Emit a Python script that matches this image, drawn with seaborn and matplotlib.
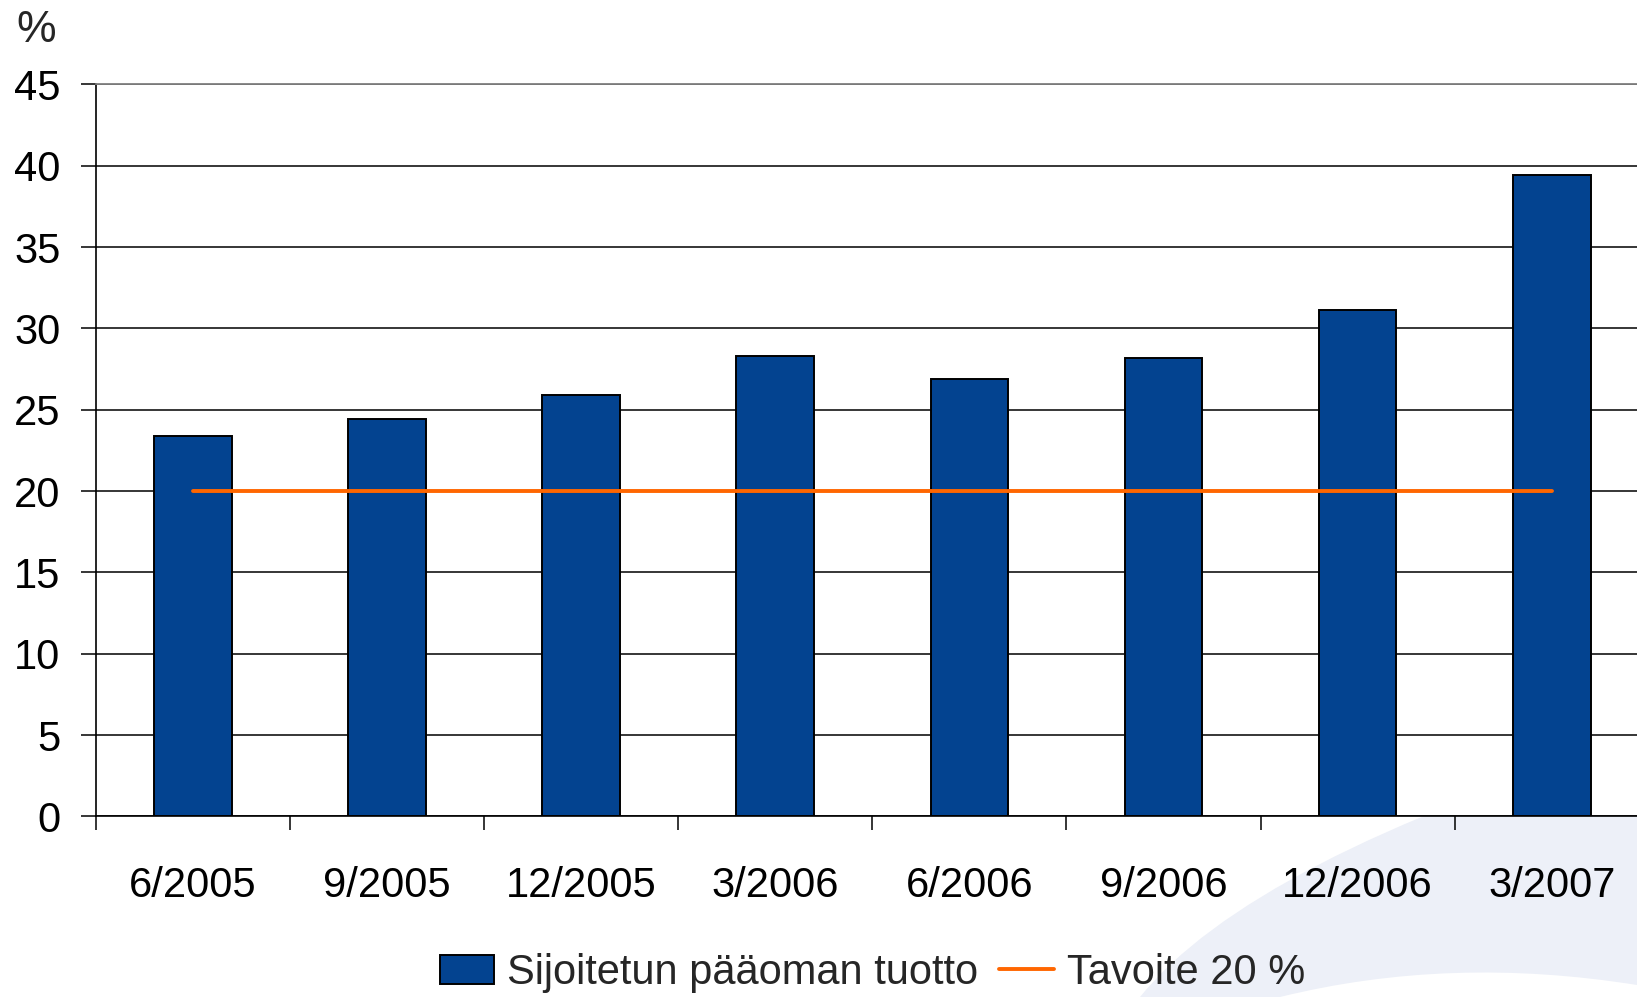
import numpy as np
import pandas as pd
import matplotlib
matplotlib.use("Agg")
import matplotlib.pyplot as plt
from matplotlib.path import Path
from matplotlib.patches import PathPatch
import seaborn as sns

# Datos
kvartaalit = ["6/2005", "9/2005", "12/2005", "3/2006", "6/2006", "9/2006", "12/2006", "3/2007"]
tuotto = [23.4, 24.4, 25.9, 28.3, 26.9, 28.2, 31.1, 39.4]
tavoite = [20, 20, 20, 20, 20, 20, 20, 20]
y_ticks = [0, 5, 10, 15, 20, 25, 30, 35, 40, 45]

sarja_palkit = "Sijoitetun pääoman tuotto"
sarja_viiva = "Tavoite 20 %"

df = pd.DataFrame({"Kvartaali": kvartaalit, "Tuotto": tuotto, "Tavoite": tavoite})
df["pos"] = np.arange(len(kvartaalit))

sns.set_style("white")
plt.rcParams["font.family"] = ["Liberation Sans", "DejaVu Sans"]

fig = plt.figure(figsize=(16.37, 9.97), dpi=100)
ax = fig.add_axes([0.0586, 0.1811, 0.9486, 0.7343])
ax.set_facecolor("white")

# Fondo decorativo (curva clara abajo a la derecha)
W, H = 1637.0, 997.0
pts = [(1140, 997), (1250, 860), (1637, 740), (1637, 985), (1450, 955), (1280, 997), (1140, 997)]
codes = [Path.MOVETO, Path.CURVE3, Path.CURVE3, Path.LINETO, Path.CURVE3, Path.CURVE3, Path.CLOSEPOLY]
verts = [(x / W, 1 - y / H) for x, y in pts]
fig.patches.append(PathPatch(Path(verts, codes), transform=fig.transFigure,
                             facecolor="#EDF0F8", edgecolor="none", zorder=-1))

# Barras
sns.barplot(data=df, x="Kvartaali", y="Tuotto", color="#034390", saturation=1,
            width=0.40, edgecolor="black", linewidth=1.4, ax=ax, label=sarja_palkit)

# Línea objetivo
sns.lineplot(data=df, x="pos", y="Tavoite", color="#FF6600", linewidth=2.8,
             ax=ax, label=sarja_viiva, zorder=4)

ax.set_xlim(-0.5, 7.5)
ax.set_ylim(0, 45)
ax.set_yticks(y_ticks)
ax.set_xticks(np.arange(len(kvartaalit)))
ax.set_xticklabels(kvartaalit)
ax.set_xticks(np.arange(len(kvartaalit)) - 0.5, minor=True)
ax.set_xlabel("")
ax.set_ylabel("")

ax.set_axisbelow(True)
ax.yaxis.grid(True, color="black", linewidth=1.1)
ax.xaxis.grid(False)

for s in ["left", "bottom"]:
    ax.spines[s].set_color("black")
    ax.spines[s].set_linewidth(1.2)
ax.spines["top"].set_color("#808080")
ax.spines["top"].set_linewidth(1.3)
ax.spines["right"].set_visible(False)

ax.tick_params(axis="x", which="major", length=0, pad=36, labelsize=30, colors="black")
ax.tick_params(axis="x", which="minor", direction="out", length=10, width=1.1, color="black", bottom=True)
ax.tick_params(axis="y", direction="out", length=10.5, width=1.1, pad=15, labelsize=30, colors="black", left=True)

fig.text(36 / W, 1 - 31 / H, "%", ha="center", va="center", fontsize=32)

if ax.get_legend():
    ax.get_legend().remove()
handles, labels = ax.get_legend_handles_labels()
orden = [labels.index(sarja_palkit), labels.index(sarja_viiva)]
fig.legend([handles[i] for i in orden], [labels[i] for i in orden],
           loc="center", bbox_to_anchor=(0.533, 0.024), ncol=2,
           frameon=False, fontsize=30, handlelength=1.3, handleheight=0.7,
           handletextpad=0.33, columnspacing=0.5)

plt.savefig("out.png", dpi=100)
